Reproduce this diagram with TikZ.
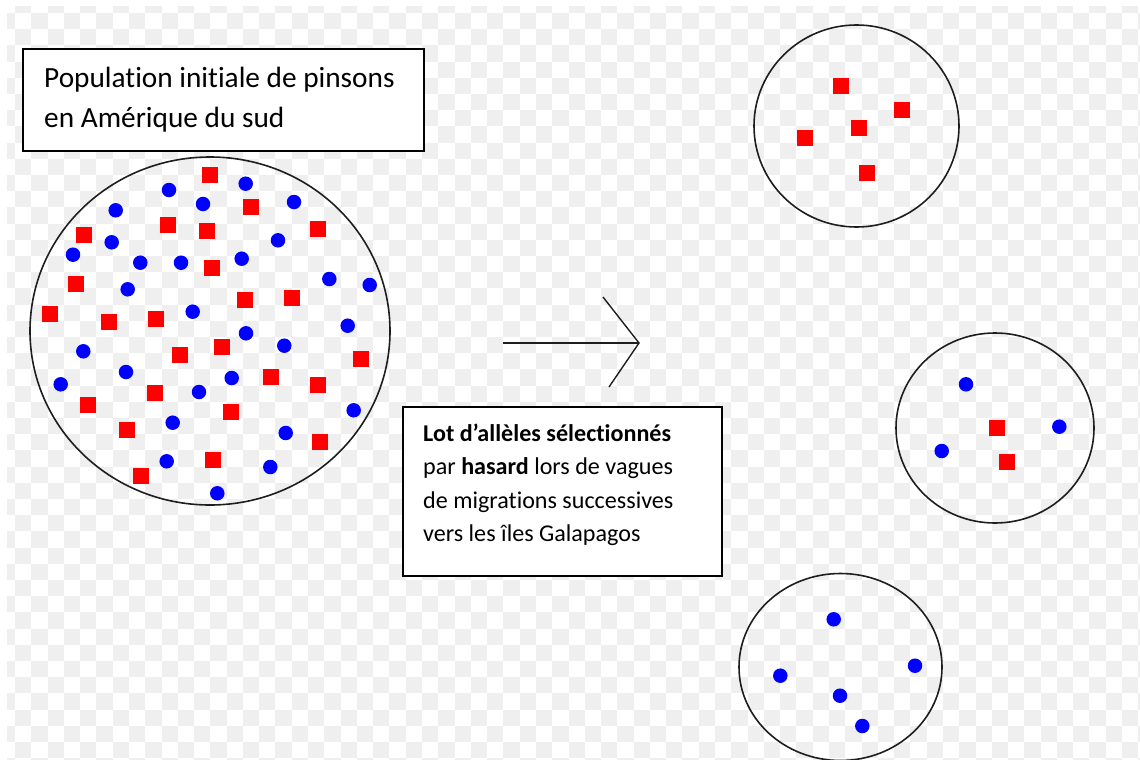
\documentclass[tikz,border=0pt]{standalone}
\usepackage{fontspec}
\setmainfont{Carlito}[Ligatures=NoCommon, RawFeature=-liga]
\usetikzlibrary{shapes.geometric}
\definecolor{chk}{RGB}{239,239,239}
\definecolor{rd}{RGB}{255,0,0}
\definecolor{bl}{RGB}{0,0,255}
\definecolor{ink}{RGB}{30,30,30}
\begin{document}
\begin{tikzpicture}[x=1pt,y=-1pt,
  reddot/.style={fill=rd, rectangle, minimum size=16pt, inner sep=0pt, outer sep=0pt},
  bluedot/.style={fill=bl, circle, minimum size=14.5pt, inner sep=0pt, outer sep=0pt},
  pool/.style={draw=ink, line width=1.6pt, ellipse, inner sep=0pt},
  labelbox/.style={draw=black, fill=white, rectangle, inner sep=0pt},
  bigtext/.style={anchor=base west, inner sep=0pt, font=\fontsize{29.3}{38}\selectfont},
  smalltext/.style={anchor=base west, inner sep=0pt, font=\fontsize{24.1}{33}\selectfont},
  arrowline/.style={draw=ink, line width=1.4pt}]
\useasboundingbox (0,0) rectangle (1140,760);
\fill[white] (0,0) rectangle (1140,760);
% checkerboard background
\begin{scope}
\clip (7,7) rectangle (1140,760);
\foreach \k in {-1,...,69}{
  \foreach \j in {-1,...,46}{
    \pgfmathtruncatemacro\chkpar{mod(\k+\j+100,2)}
    \ifnum\chkpar=1
      \fill[chk] ({15+16.28*\k},{13+16.2*\j}) rectangle ++(16.28,16.2);
    \fi
  }
}
\end{scope}

% pools
\node[pool, minimum width=360pt, minimum height=348pt] (pop) at (210,331) {};
\node[pool, minimum width=205pt, minimum height=202pt] (isleA) at (856.5,126) {};
\node[pool, minimum width=198pt, minimum height=190pt] (isleB) at (995,428) {};
\node[pool, minimum width=203pt, minimum height=187pt] (isleC) at (840.5,667) {};

% big population: red squares
\foreach \x/\y [count=\i] in {210.3/174.7, 251/207, 167.7/225.3, 207/230.7, 317.7/229.3,
  84.3/235.3, 212.3/267.7, 76/284, 245/300.3, 291.7/298.3, 49.7/314.3, 108.7/322.3,
  156.3/318.7, 222.3/346.7, 179.7/354.7, 360.7/359, 271/377, 318/385.3, 155/393.3,
  88.3/405.3, 230.7/411.7, 127/430, 320/442, 212.7/460, 141/476.3}
  \node[reddot] (pr\i) at (\x,\y) {};
% big population: blue dots
\foreach \x/\y [count=\i] in {245.7/183.7, 169/190, 294/202, 203/204, 115.7/210.3,
  111.7/242.3, 278/240.3, 73/254.7, 140.3/262.7, 181/262.7, 241.7/258.7, 329.3/279,
  369.7/285, 127.7/289.3, 192.7/311.7, 347.7/325.7, 246/333.3, 284.3/345.7, 83.3/351.3,
  126/372, 231.7/378, 60.7/384.3, 199/392, 353.7/410.3, 172.7/422.7, 285.7/433,
  166.7/461.3, 270.3/467, 217.3/493.3}
  \node[bluedot] (pb\i) at (\x,\y) {};

% island A
\foreach \x/\y [count=\i] in {840.7/85.7, 901.7/110, 859/128.3, 805/138.3, 867/172.7}
  \node[reddot] (ar\i) at (\x,\y) {};
% island B
\foreach \x/\y [count=\i] in {966/384.3, 1059.3/426.7, 941.7/451}
  \node[bluedot] (bb\i) at (\x,\y) {};
\foreach \x/\y [count=\i] in {997.3/427.7, 1007.3/462.3}
  \node[reddot] (br\i) at (\x,\y) {};
% island C
\foreach \x/\y [count=\i] in {833.7/619.3, 915/665.7, 780.3/675.7, 840/695.7, 862.3/726}
  \node[bluedot] (cb\i) at (\x,\y) {};

% title box
\node[labelbox, line width=2pt, minimum width=401pt, minimum height=102pt] (titlebox) at (223.5,100) {};
\node[bigtext] (t1) at (44,88) {Population initiale de pinsons};
\node[bigtext] (t2) at (44,127) {en Amérique du sud};

% arrow
\coordinate (tail) at (503,343);
\coordinate (tip) at (639,343);
\coordinate (barbA) at (603,297);
\coordinate (barbB) at (609,387);
\draw[arrowline] (tail) -- (tip);
\draw[arrowline] (barbA) -- (tip) -- (barbB);

% explanation box
\node[labelbox, line width=1.6pt, minimum width=319pt, minimum height=169pt] (notebox) at (562.5,491.5) {};
\node[smalltext] (n1) at (423,441) {\textbf{Lot d’allèles sélectionnés}};
\node[smalltext] (n2) at (423,474.5) {par \textbf{hasard} lors de vagues};
\node[smalltext] (n3) at (423,508) {de migrations successives};
\node[smalltext] (n4) at (423,541) {vers les îles Galapagos};
\end{tikzpicture}
\end{document}
